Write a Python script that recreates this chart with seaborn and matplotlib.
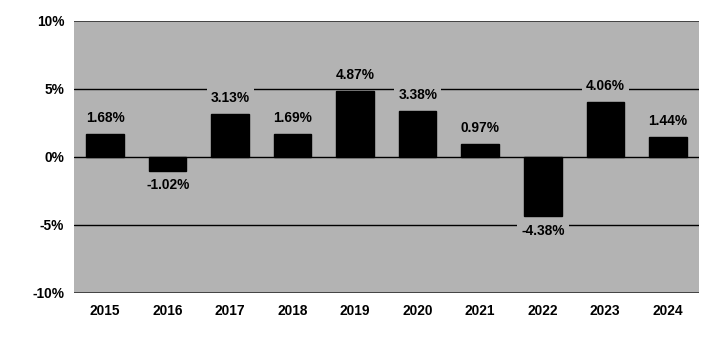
import matplotlib
matplotlib.use("Agg")
import matplotlib.pyplot as plt
from matplotlib import font_manager
import seaborn as sns
import pandas as pd

years = ["2015", "2016", "2017", "2018", "2019", "2020", "2021", "2022", "2023", "2024"]
returns = [1.68, -1.02, 3.13, 1.69, 4.87, 3.38, 0.97, -4.38, 4.06, 1.44]
y_ticks = [-10, -5, 0, 5, 10]
y_tick_labels = ["-10%", "-5%", "0%", "5%", "10%"]

sns.set_style("white")

# Prefer a narrow sans face when one is installed
installed = {f.name for f in font_manager.fontManager.ttflist}
if "Liberation Sans Narrow" in installed:
    family = ["Liberation Sans Narrow", "DejaVu Sans"]
    fs = 10.5
else:
    family = ["Liberation Sans", "DejaVu Sans"]
    fs = 9.9
plt.rcParams["font.family"] = family
plt.rcParams["font.weight"] = "bold"
plt.rcParams["text.color"] = "black"
plt.rcParams["xtick.color"] = "black"
plt.rcParams["ytick.color"] = "black"

bg = "#b3b3b3"
df = pd.DataFrame({"year": years, "ret": returns})

fig = plt.figure(figsize=(7.21, 3.38), dpi=100)
ax = fig.add_axes([0.1026, 0.1346, 0.8669, 0.8034])
ax.set_facecolor(bg)

for v in y_ticks:
    if v in (-10, 10):
        ax.axhline(v, color="#3a3a3a", lw=1.3, zorder=0)
    else:
        ax.axhline(v, color="black", lw=1.0, zorder=0)

sns.barplot(data=df, x="year", y="ret", color="black", width=0.6,
            saturation=1, ax=ax, zorder=2)
for p in ax.patches:
    p.set_edgecolor("black")

for i, v in enumerate(returns):
    if v >= 0:
        ax.annotate(f"{v:.2f}%", (i, v), xytext=(0, 8.5), textcoords="offset points",
                    ha="center", va="baseline", fontsize=fs, fontweight="bold",
                    color="black", zorder=3,
                    bbox=dict(facecolor=bg, edgecolor="none", pad=3))
    else:
        ax.annotate(f"{v:.2f}%", (i, v), xytext=(0, -5.5), textcoords="offset points",
                    ha="center", va="top", fontsize=fs, fontweight="bold",
                    color="black", zorder=3,
                    bbox=dict(facecolor=bg, edgecolor="none", pad=3))

ax.set_ylim(-10, 10)
ax.set_xlim(-0.5, len(years) - 0.5)
ax.set_yticks(y_ticks)
ax.set_yticklabels(y_tick_labels, fontsize=fs, fontweight="bold", color="black")
ax.tick_params(axis="x", labelsize=fs, pad=8, length=0, labelcolor="black")
ax.tick_params(axis="y", pad=7, length=0, labelcolor="black")
for lbl in ax.get_xticklabels():
    lbl.set_fontweight("bold")
ax.set_xlabel("")
ax.set_ylabel("")
for s in ax.spines.values():
    s.set_visible(False)

fig.savefig("out.png", dpi=100)
